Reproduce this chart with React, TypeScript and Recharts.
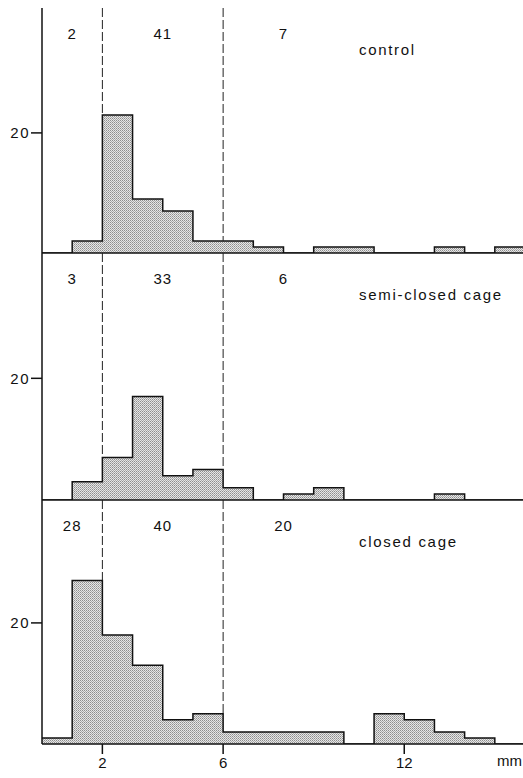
import React from 'react';
import { Area, ComposedChart, ReferenceDot, ReferenceLine, XAxis, YAxis } from 'recharts';

// bin i spans i..i+1 mm
const binEdges = [0, 1, 2, 3, 4, 5, 6, 7, 8, 9, 10, 11, 12, 13, 14, 15, 16];
const controlCounts = [0, 2, 23, 9, 7, 2, 2, 1, 0, 1, 1, 0, 0, 1, 0, 1];
const semiCounts = [0, 3, 7, 17, 4, 5, 2, 0, 1, 2, 0, 0, 0, 1, 0, 0];
const closedCounts = [1, 27, 18, 13, 4, 5, 2, 2, 2, 2, 0, 5, 4, 2, 1, 0];

const classLimits = [2, 6];
const xTicks = [2, 6, 12];
const yTicks = [20];

const controlTotals = ['2', '41', '7'];
const semiTotals = ['3', '33', '6'];
const closedTotals = ['28', '40', '20'];
const totalPositions = [1, 4, 8];

const FONT = '"Liberation Sans", Arial, sans-serif';
const W = 525;

function toSteps(counts: number[]) {
  // stepAfter needs a closing point at the last edge
  return binEdges.map((x, i) => ({ x, n: counts[Math.min(i, counts.length - 1)] }));
}

interface PanelProps {
  counts: number[];
  totals: string[];
  title: string;
  top: number;
  marginTop: number;
  plotHeight: number;
  yMax: number;
  last?: boolean;
  first?: boolean;
  patternId: string;
}

function Panel({ counts, totals, title, top, marginTop, plotHeight, yMax, last, first, patternId }: PanelProps) {
  const axisH = last ? 34 : 12;
  const data = toSteps(counts);
  const labelY = yMax * 0.895;
  const titleY = yMax * 0.83;
  return (
    <div style={{ position: 'absolute', left: 0, top }}>
      <ComposedChart
        width={W}
        height={marginTop + plotHeight + axisH}
        data={data}
        margin={{ top: marginTop, right: 0, bottom: 0, left: 0 }}
      >
        <defs>
          <pattern id={patternId} width="2" height="2" patternUnits="userSpaceOnUse">
            <rect width="2" height="2" fill="#e6e6e6" />
            <rect width="1" height="1" fill="#8e8e8e" />
            <rect x="1" y="1" width="1" height="1" fill="#ababab" />
          </pattern>
        </defs>
        <XAxis
          dataKey="x"
          type="number"
          domain={[0, 16]}
          ticks={xTicks}
          tickSize={10}
          tickMargin={3}
          height={axisH}
          tick={last ? { fill: '#111', fontSize: 15, fontFamily: FONT } : false}
          axisLine={{ stroke: '#111', strokeWidth: 1.5 }}
          tickLine={{ stroke: '#111', strokeWidth: 1.5 }}
          allowDataOverflow
          label={last ? { value: 'mm', position: 'insideRight', offset: 3, fill: '#111', fontSize: 15, fontFamily: FONT } : undefined}
        />
        {first && (
          <XAxis
            xAxisId="top"
            orientation="top"
            type="number"
            domain={[0, 16]}
            height={0}
            tick={false}
            tickLine={false}
            axisLine={{ stroke: '#111', strokeWidth: 1.5 }}
          />
        )}
        <YAxis
          type="number"
          domain={[0, yMax]}
          ticks={yTicks}
          width={42}
          tickSize={11}
          tickMargin={1}
          tick={{ fill: '#111', fontSize: 15, fontFamily: FONT, letterSpacing: 1.5 }}
          axisLine={{ stroke: '#111', strokeWidth: 1.5 }}
          tickLine={{ stroke: '#111', strokeWidth: 1.5 }}
          allowDataOverflow
        />
        {classLimits.map((x) => (
          <ReferenceLine
            key={x}
            segment={[
              { x, y: yMax },
              { x, y: Math.max(counts[x - 1], counts[x]) },
            ]}
            stroke="#222"
            strokeWidth={1}
            strokeDasharray="9 3"
          />
        ))}
        <Area
          type="stepAfter"
          dataKey="n"
          stroke="#111"
          strokeWidth={1.5}
          fill={`url(#${patternId})`}
          fillOpacity={1}
          baseValue={0}
          dot={false}
          activeDot={false}
          isAnimationActive={false}
        />
        {totals.map((t, i) => (
          <ReferenceDot
            key={t + i}
            x={totalPositions[i]}
            y={labelY}
            r={0}
            fill="none"
            stroke="none"
            label={{ value: t, position: 'center', fill: '#111', fontSize: 15, fontFamily: FONT, letterSpacing: 1 }}
          />
        ))}
        <ReferenceDot
          x={10.5}
          y={titleY}
          r={0}
          fill="none"
          stroke="none"
          label={{ value: title, position: 'right', offset: 0, fill: '#111', fontSize: 15, fontFamily: FONT, letterSpacing: 1.7 }}
        />
      </ComposedChart>
    </div>
  );
}

export default function App() {
  return (
    <div style={{ position: 'absolute', left: 0, top: 0, width: 523, height: 778, overflow: 'hidden', background: '#fff' }}>
      <Panel counts={controlCounts} totals={controlTotals} title="control" top={0} marginTop={8} plotHeight={245} yMax={40.8} first patternId="dotsA" />
      <Panel counts={semiCounts} totals={semiTotals} title="semi-closed cage" top={253} marginTop={0} plotHeight={247} yMax={40.6} patternId="dotsB" />
      <Panel counts={closedCounts} totals={closedTotals} title="closed cage" top={500} marginTop={0} plotHeight={244} yMax={40.3} last patternId="dotsC" />
    </div>
  );
}
